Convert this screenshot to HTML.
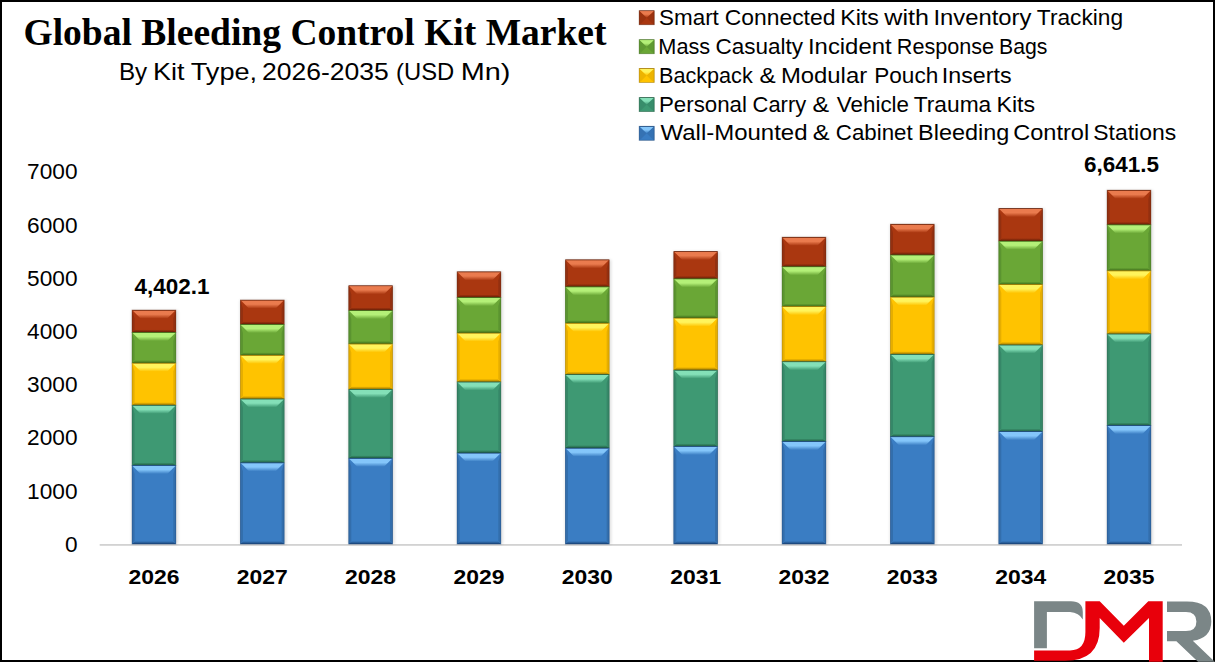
<!DOCTYPE html>
<html><head><meta charset="utf-8"><style>
html,body{margin:0;padding:0;background:#fff;overflow:hidden;}
svg{display:block;}
</style></head><body>
<svg width="1216" height="663" viewBox="0 0 1216 663">
<defs><filter id="sh" x="-20%" y="-5%" width="140%" height="110%"><feGaussianBlur stdDeviation="1.6"/></filter><linearGradient id="g_red_t" x1="0" y1="0" x2="0" y2="1"><stop offset="0" stop-color="#5e1c06"/><stop offset="0.1" stop-color="#ea7b4e"/><stop offset="0.5" stop-color="#ea7b4e"/><stop offset="1" stop-color="#aa3710"/></linearGradient><linearGradient id="g_red_b" x1="0" y1="0" x2="0" y2="1"><stop offset="0" stop-color="#aa3710"/><stop offset="1" stop-color="#5e1c06"/></linearGradient><linearGradient id="g_green_t" x1="0" y1="0" x2="0" y2="1"><stop offset="0" stop-color="#3a6818"/><stop offset="0.1" stop-color="#b4f078"/><stop offset="0.5" stop-color="#b4f078"/><stop offset="1" stop-color="#6aa736"/></linearGradient><linearGradient id="g_green_b" x1="0" y1="0" x2="0" y2="1"><stop offset="0" stop-color="#6aa736"/><stop offset="1" stop-color="#3a6818"/></linearGradient><linearGradient id="g_yellow_t" x1="0" y1="0" x2="0" y2="1"><stop offset="0" stop-color="#9c7400"/><stop offset="0.1" stop-color="#fff45c"/><stop offset="0.5" stop-color="#fff45c"/><stop offset="1" stop-color="#ffc300"/></linearGradient><linearGradient id="g_yellow_b" x1="0" y1="0" x2="0" y2="1"><stop offset="0" stop-color="#ffc300"/><stop offset="1" stop-color="#9c7400"/></linearGradient><linearGradient id="g_teal_t" x1="0" y1="0" x2="0" y2="1"><stop offset="0" stop-color="#1f5a40"/><stop offset="0.1" stop-color="#84e0b8"/><stop offset="0.5" stop-color="#84e0b8"/><stop offset="1" stop-color="#3e9973"/></linearGradient><linearGradient id="g_teal_b" x1="0" y1="0" x2="0" y2="1"><stop offset="0" stop-color="#3e9973"/><stop offset="1" stop-color="#1f5a40"/></linearGradient><linearGradient id="g_blue_t" x1="0" y1="0" x2="0" y2="1"><stop offset="0" stop-color="#1a4476"/><stop offset="0.1" stop-color="#84c6fa"/><stop offset="0.5" stop-color="#84c6fa"/><stop offset="1" stop-color="#3a7dc3"/></linearGradient><linearGradient id="g_blue_b" x1="0" y1="0" x2="0" y2="1"><stop offset="0" stop-color="#3a7dc3"/><stop offset="1" stop-color="#1a4476"/></linearGradient></defs>
<rect x="0" y="0" width="1216" height="663" fill="#fff"/>
<rect x="99.7" y="544" width="1082.3" height="1.8" fill="#d2d2d2"/><rect x="131.60" y="310.10" width="46.20" height="233.90" fill="#000" opacity="0.13" filter="url(#sh)"/><rect x="132.10" y="310.10" width="43.70" height="22.30" fill="#aa3710"/><polygon points="132.10,310.10 134.60,318.60 134.60,329.40 132.10,332.40" fill="#933010"/><polygon points="175.80,310.10 173.30,318.60 173.30,329.40 175.80,332.40" fill="#933010"/><polygon points="132.10,310.10 175.80,310.10 167.30,318.60 140.60,318.60" fill="url(#g_red_t)"/><polygon points="132.10,332.40 175.80,332.40 172.80,329.40 135.10,329.40" fill="url(#g_red_b)"/><rect x="132.10" y="310.10" width="43.70" height="22.30" fill="none" stroke="#5e1c06" stroke-opacity="0.55" stroke-width="0.8"/><rect x="132.10" y="332.40" width="43.70" height="30.70" fill="#6aa736"/><polygon points="132.10,332.40 134.60,340.90 134.60,360.10 132.10,363.10" fill="#5b9430"/><polygon points="175.80,332.40 173.30,340.90 173.30,360.10 175.80,363.10" fill="#5b9430"/><polygon points="132.10,332.40 175.80,332.40 167.30,340.90 140.60,340.90" fill="url(#g_green_t)"/><polygon points="132.10,363.10 175.80,363.10 172.80,360.10 135.10,360.10" fill="url(#g_green_b)"/><rect x="132.10" y="332.40" width="43.70" height="30.70" fill="none" stroke="#3a6818" stroke-opacity="0.55" stroke-width="0.8"/><rect x="132.10" y="363.10" width="43.70" height="42.10" fill="#ffc300"/><polygon points="132.10,363.10 134.60,371.60 134.60,402.20 132.10,405.20" fill="#e6ae00"/><polygon points="175.80,363.10 173.30,371.60 173.30,402.20 175.80,405.20" fill="#e6ae00"/><polygon points="132.10,363.10 175.80,363.10 167.30,371.60 140.60,371.60" fill="url(#g_yellow_t)"/><polygon points="132.10,405.20 175.80,405.20 172.80,402.20 135.10,402.20" fill="url(#g_yellow_b)"/><rect x="132.10" y="363.10" width="43.70" height="42.10" fill="none" stroke="#9c7400" stroke-opacity="0.55" stroke-width="0.8"/><rect x="132.10" y="405.20" width="43.70" height="60.20" fill="#3e9973"/><polygon points="132.10,405.20 134.60,413.70 134.60,462.40 132.10,465.40" fill="#368768"/><polygon points="175.80,405.20 173.30,413.70 173.30,462.40 175.80,465.40" fill="#368768"/><polygon points="132.10,405.20 175.80,405.20 167.30,413.70 140.60,413.70" fill="url(#g_teal_t)"/><polygon points="132.10,465.40 175.80,465.40 172.80,462.40 135.10,462.40" fill="url(#g_teal_b)"/><rect x="132.10" y="405.20" width="43.70" height="60.20" fill="none" stroke="#1f5a40" stroke-opacity="0.55" stroke-width="0.8"/><rect x="132.10" y="465.40" width="43.70" height="78.60" fill="#3a7dc3"/><polygon points="132.10,465.40 134.60,473.90 134.60,541.00 132.10,544.00" fill="#336eac"/><polygon points="175.80,465.40 173.30,473.90 173.30,541.00 175.80,544.00" fill="#336eac"/><polygon points="132.10,465.40 175.80,465.40 167.30,473.90 140.60,473.90" fill="url(#g_blue_t)"/><polygon points="132.10,544.00 175.80,544.00 172.80,541.00 135.10,541.00" fill="url(#g_blue_b)"/><rect x="132.10" y="465.40" width="43.70" height="78.60" fill="none" stroke="#1a4476" stroke-opacity="0.55" stroke-width="0.8"/><rect x="239.94" y="300.00" width="46.20" height="244.00" fill="#000" opacity="0.13" filter="url(#sh)"/><rect x="240.44" y="300.00" width="43.70" height="24.40" fill="#aa3710"/><polygon points="240.44,300.00 242.94,308.50 242.94,321.40 240.44,324.40" fill="#933010"/><polygon points="284.14,300.00 281.64,308.50 281.64,321.40 284.14,324.40" fill="#933010"/><polygon points="240.44,300.00 284.14,300.00 275.64,308.50 248.94,308.50" fill="url(#g_red_t)"/><polygon points="240.44,324.40 284.14,324.40 281.14,321.40 243.44,321.40" fill="url(#g_red_b)"/><rect x="240.44" y="300.00" width="43.70" height="24.40" fill="none" stroke="#5e1c06" stroke-opacity="0.55" stroke-width="0.8"/><rect x="240.44" y="324.40" width="43.70" height="30.90" fill="#6aa736"/><polygon points="240.44,324.40 242.94,332.90 242.94,352.30 240.44,355.30" fill="#5b9430"/><polygon points="284.14,324.40 281.64,332.90 281.64,352.30 284.14,355.30" fill="#5b9430"/><polygon points="240.44,324.40 284.14,324.40 275.64,332.90 248.94,332.90" fill="url(#g_green_t)"/><polygon points="240.44,355.30 284.14,355.30 281.14,352.30 243.44,352.30" fill="url(#g_green_b)"/><rect x="240.44" y="324.40" width="43.70" height="30.90" fill="none" stroke="#3a6818" stroke-opacity="0.55" stroke-width="0.8"/><rect x="240.44" y="355.30" width="43.70" height="43.60" fill="#ffc300"/><polygon points="240.44,355.30 242.94,363.80 242.94,395.90 240.44,398.90" fill="#e6ae00"/><polygon points="284.14,355.30 281.64,363.80 281.64,395.90 284.14,398.90" fill="#e6ae00"/><polygon points="240.44,355.30 284.14,355.30 275.64,363.80 248.94,363.80" fill="url(#g_yellow_t)"/><polygon points="240.44,398.90 284.14,398.90 281.14,395.90 243.44,395.90" fill="url(#g_yellow_b)"/><rect x="240.44" y="355.30" width="43.70" height="43.60" fill="none" stroke="#9c7400" stroke-opacity="0.55" stroke-width="0.8"/><rect x="240.44" y="398.90" width="43.70" height="63.90" fill="#3e9973"/><polygon points="240.44,398.90 242.94,407.40 242.94,459.80 240.44,462.80" fill="#368768"/><polygon points="284.14,398.90 281.64,407.40 281.64,459.80 284.14,462.80" fill="#368768"/><polygon points="240.44,398.90 284.14,398.90 275.64,407.40 248.94,407.40" fill="url(#g_teal_t)"/><polygon points="240.44,462.80 284.14,462.80 281.14,459.80 243.44,459.80" fill="url(#g_teal_b)"/><rect x="240.44" y="398.90" width="43.70" height="63.90" fill="none" stroke="#1f5a40" stroke-opacity="0.55" stroke-width="0.8"/><rect x="240.44" y="462.80" width="43.70" height="81.20" fill="#3a7dc3"/><polygon points="240.44,462.80 242.94,471.30 242.94,541.00 240.44,544.00" fill="#336eac"/><polygon points="284.14,462.80 281.64,471.30 281.64,541.00 284.14,544.00" fill="#336eac"/><polygon points="240.44,462.80 284.14,462.80 275.64,471.30 248.94,471.30" fill="url(#g_blue_t)"/><polygon points="240.44,544.00 284.14,544.00 281.14,541.00 243.44,541.00" fill="url(#g_blue_b)"/><rect x="240.44" y="462.80" width="43.70" height="81.20" fill="none" stroke="#1a4476" stroke-opacity="0.55" stroke-width="0.8"/><rect x="348.28" y="285.70" width="46.20" height="258.30" fill="#000" opacity="0.13" filter="url(#sh)"/><rect x="348.78" y="285.70" width="43.70" height="24.80" fill="#aa3710"/><polygon points="348.78,285.70 351.28,294.20 351.28,307.50 348.78,310.50" fill="#933010"/><polygon points="392.48,285.70 389.98,294.20 389.98,307.50 392.48,310.50" fill="#933010"/><polygon points="348.78,285.70 392.48,285.70 383.98,294.20 357.28,294.20" fill="url(#g_red_t)"/><polygon points="348.78,310.50 392.48,310.50 389.48,307.50 351.78,307.50" fill="url(#g_red_b)"/><rect x="348.78" y="285.70" width="43.70" height="24.80" fill="none" stroke="#5e1c06" stroke-opacity="0.55" stroke-width="0.8"/><rect x="348.78" y="310.50" width="43.70" height="33.40" fill="#6aa736"/><polygon points="348.78,310.50 351.28,319.00 351.28,340.90 348.78,343.90" fill="#5b9430"/><polygon points="392.48,310.50 389.98,319.00 389.98,340.90 392.48,343.90" fill="#5b9430"/><polygon points="348.78,310.50 392.48,310.50 383.98,319.00 357.28,319.00" fill="url(#g_green_t)"/><polygon points="348.78,343.90 392.48,343.90 389.48,340.90 351.78,340.90" fill="url(#g_green_b)"/><rect x="348.78" y="310.50" width="43.70" height="33.40" fill="none" stroke="#3a6818" stroke-opacity="0.55" stroke-width="0.8"/><rect x="348.78" y="343.90" width="43.70" height="45.40" fill="#ffc300"/><polygon points="348.78,343.90 351.28,352.40 351.28,386.30 348.78,389.30" fill="#e6ae00"/><polygon points="392.48,343.90 389.98,352.40 389.98,386.30 392.48,389.30" fill="#e6ae00"/><polygon points="348.78,343.90 392.48,343.90 383.98,352.40 357.28,352.40" fill="url(#g_yellow_t)"/><polygon points="348.78,389.30 392.48,389.30 389.48,386.30 351.78,386.30" fill="url(#g_yellow_b)"/><rect x="348.78" y="343.90" width="43.70" height="45.40" fill="none" stroke="#9c7400" stroke-opacity="0.55" stroke-width="0.8"/><rect x="348.78" y="389.30" width="43.70" height="69.00" fill="#3e9973"/><polygon points="348.78,389.30 351.28,397.80 351.28,455.30 348.78,458.30" fill="#368768"/><polygon points="392.48,389.30 389.98,397.80 389.98,455.30 392.48,458.30" fill="#368768"/><polygon points="348.78,389.30 392.48,389.30 383.98,397.80 357.28,397.80" fill="url(#g_teal_t)"/><polygon points="348.78,458.30 392.48,458.30 389.48,455.30 351.78,455.30" fill="url(#g_teal_b)"/><rect x="348.78" y="389.30" width="43.70" height="69.00" fill="none" stroke="#1f5a40" stroke-opacity="0.55" stroke-width="0.8"/><rect x="348.78" y="458.30" width="43.70" height="85.70" fill="#3a7dc3"/><polygon points="348.78,458.30 351.28,466.80 351.28,541.00 348.78,544.00" fill="#336eac"/><polygon points="392.48,458.30 389.98,466.80 389.98,541.00 392.48,544.00" fill="#336eac"/><polygon points="348.78,458.30 392.48,458.30 383.98,466.80 357.28,466.80" fill="url(#g_blue_t)"/><polygon points="348.78,544.00 392.48,544.00 389.48,541.00 351.78,541.00" fill="url(#g_blue_b)"/><rect x="348.78" y="458.30" width="43.70" height="85.70" fill="none" stroke="#1a4476" stroke-opacity="0.55" stroke-width="0.8"/><rect x="456.62" y="271.80" width="46.20" height="272.20" fill="#000" opacity="0.13" filter="url(#sh)"/><rect x="457.12" y="271.80" width="43.70" height="25.70" fill="#aa3710"/><polygon points="457.12,271.80 459.62,280.30 459.62,294.50 457.12,297.50" fill="#933010"/><polygon points="500.82,271.80 498.32,280.30 498.32,294.50 500.82,297.50" fill="#933010"/><polygon points="457.12,271.80 500.82,271.80 492.32,280.30 465.62,280.30" fill="url(#g_red_t)"/><polygon points="457.12,297.50 500.82,297.50 497.82,294.50 460.12,294.50" fill="url(#g_red_b)"/><rect x="457.12" y="271.80" width="43.70" height="25.70" fill="none" stroke="#5e1c06" stroke-opacity="0.55" stroke-width="0.8"/><rect x="457.12" y="297.50" width="43.70" height="35.50" fill="#6aa736"/><polygon points="457.12,297.50 459.62,306.00 459.62,330.00 457.12,333.00" fill="#5b9430"/><polygon points="500.82,297.50 498.32,306.00 498.32,330.00 500.82,333.00" fill="#5b9430"/><polygon points="457.12,297.50 500.82,297.50 492.32,306.00 465.62,306.00" fill="url(#g_green_t)"/><polygon points="457.12,333.00 500.82,333.00 497.82,330.00 460.12,330.00" fill="url(#g_green_b)"/><rect x="457.12" y="297.50" width="43.70" height="35.50" fill="none" stroke="#3a6818" stroke-opacity="0.55" stroke-width="0.8"/><rect x="457.12" y="333.00" width="43.70" height="48.90" fill="#ffc300"/><polygon points="457.12,333.00 459.62,341.50 459.62,378.90 457.12,381.90" fill="#e6ae00"/><polygon points="500.82,333.00 498.32,341.50 498.32,378.90 500.82,381.90" fill="#e6ae00"/><polygon points="457.12,333.00 500.82,333.00 492.32,341.50 465.62,341.50" fill="url(#g_yellow_t)"/><polygon points="457.12,381.90 500.82,381.90 497.82,378.90 460.12,378.90" fill="url(#g_yellow_b)"/><rect x="457.12" y="333.00" width="43.70" height="48.90" fill="none" stroke="#9c7400" stroke-opacity="0.55" stroke-width="0.8"/><rect x="457.12" y="381.90" width="43.70" height="71.10" fill="#3e9973"/><polygon points="457.12,381.90 459.62,390.40 459.62,450.00 457.12,453.00" fill="#368768"/><polygon points="500.82,381.90 498.32,390.40 498.32,450.00 500.82,453.00" fill="#368768"/><polygon points="457.12,381.90 500.82,381.90 492.32,390.40 465.62,390.40" fill="url(#g_teal_t)"/><polygon points="457.12,453.00 500.82,453.00 497.82,450.00 460.12,450.00" fill="url(#g_teal_b)"/><rect x="457.12" y="381.90" width="43.70" height="71.10" fill="none" stroke="#1f5a40" stroke-opacity="0.55" stroke-width="0.8"/><rect x="457.12" y="453.00" width="43.70" height="91.00" fill="#3a7dc3"/><polygon points="457.12,453.00 459.62,461.50 459.62,541.00 457.12,544.00" fill="#336eac"/><polygon points="500.82,453.00 498.32,461.50 498.32,541.00 500.82,544.00" fill="#336eac"/><polygon points="457.12,453.00 500.82,453.00 492.32,461.50 465.62,461.50" fill="url(#g_blue_t)"/><polygon points="457.12,544.00 500.82,544.00 497.82,541.00 460.12,541.00" fill="url(#g_blue_b)"/><rect x="457.12" y="453.00" width="43.70" height="91.00" fill="none" stroke="#1a4476" stroke-opacity="0.55" stroke-width="0.8"/><rect x="564.96" y="259.80" width="46.20" height="284.20" fill="#000" opacity="0.13" filter="url(#sh)"/><rect x="565.46" y="259.80" width="43.70" height="27.00" fill="#aa3710"/><polygon points="565.46,259.80 567.96,268.30 567.96,283.80 565.46,286.80" fill="#933010"/><polygon points="609.16,259.80 606.66,268.30 606.66,283.80 609.16,286.80" fill="#933010"/><polygon points="565.46,259.80 609.16,259.80 600.66,268.30 573.96,268.30" fill="url(#g_red_t)"/><polygon points="565.46,286.80 609.16,286.80 606.16,283.80 568.46,283.80" fill="url(#g_red_b)"/><rect x="565.46" y="259.80" width="43.70" height="27.00" fill="none" stroke="#5e1c06" stroke-opacity="0.55" stroke-width="0.8"/><rect x="565.46" y="286.80" width="43.70" height="36.40" fill="#6aa736"/><polygon points="565.46,286.80 567.96,295.30 567.96,320.20 565.46,323.20" fill="#5b9430"/><polygon points="609.16,286.80 606.66,295.30 606.66,320.20 609.16,323.20" fill="#5b9430"/><polygon points="565.46,286.80 609.16,286.80 600.66,295.30 573.96,295.30" fill="url(#g_green_t)"/><polygon points="565.46,323.20 609.16,323.20 606.16,320.20 568.46,320.20" fill="url(#g_green_b)"/><rect x="565.46" y="286.80" width="43.70" height="36.40" fill="none" stroke="#3a6818" stroke-opacity="0.55" stroke-width="0.8"/><rect x="565.46" y="323.20" width="43.70" height="51.40" fill="#ffc300"/><polygon points="565.46,323.20 567.96,331.70 567.96,371.60 565.46,374.60" fill="#e6ae00"/><polygon points="609.16,323.20 606.66,331.70 606.66,371.60 609.16,374.60" fill="#e6ae00"/><polygon points="565.46,323.20 609.16,323.20 600.66,331.70 573.96,331.70" fill="url(#g_yellow_t)"/><polygon points="565.46,374.60 609.16,374.60 606.16,371.60 568.46,371.60" fill="url(#g_yellow_b)"/><rect x="565.46" y="323.20" width="43.70" height="51.40" fill="none" stroke="#9c7400" stroke-opacity="0.55" stroke-width="0.8"/><rect x="565.46" y="374.60" width="43.70" height="73.50" fill="#3e9973"/><polygon points="565.46,374.60 567.96,383.10 567.96,445.10 565.46,448.10" fill="#368768"/><polygon points="609.16,374.60 606.66,383.10 606.66,445.10 609.16,448.10" fill="#368768"/><polygon points="565.46,374.60 609.16,374.60 600.66,383.10 573.96,383.10" fill="url(#g_teal_t)"/><polygon points="565.46,448.10 609.16,448.10 606.16,445.10 568.46,445.10" fill="url(#g_teal_b)"/><rect x="565.46" y="374.60" width="43.70" height="73.50" fill="none" stroke="#1f5a40" stroke-opacity="0.55" stroke-width="0.8"/><rect x="565.46" y="448.10" width="43.70" height="95.90" fill="#3a7dc3"/><polygon points="565.46,448.10 567.96,456.60 567.96,541.00 565.46,544.00" fill="#336eac"/><polygon points="609.16,448.10 606.66,456.60 606.66,541.00 609.16,544.00" fill="#336eac"/><polygon points="565.46,448.10 609.16,448.10 600.66,456.60 573.96,456.60" fill="url(#g_blue_t)"/><polygon points="565.46,544.00 609.16,544.00 606.16,541.00 568.46,541.00" fill="url(#g_blue_b)"/><rect x="565.46" y="448.10" width="43.70" height="95.90" fill="none" stroke="#1a4476" stroke-opacity="0.55" stroke-width="0.8"/><rect x="673.30" y="251.40" width="46.20" height="292.60" fill="#000" opacity="0.13" filter="url(#sh)"/><rect x="673.80" y="251.40" width="43.70" height="27.40" fill="#aa3710"/><polygon points="673.80,251.40 676.30,259.90 676.30,275.80 673.80,278.80" fill="#933010"/><polygon points="717.50,251.40 715.00,259.90 715.00,275.80 717.50,278.80" fill="#933010"/><polygon points="673.80,251.40 717.50,251.40 709.00,259.90 682.30,259.90" fill="url(#g_red_t)"/><polygon points="673.80,278.80 717.50,278.80 714.50,275.80 676.80,275.80" fill="url(#g_red_b)"/><rect x="673.80" y="251.40" width="43.70" height="27.40" fill="none" stroke="#5e1c06" stroke-opacity="0.55" stroke-width="0.8"/><rect x="673.80" y="278.80" width="43.70" height="39.20" fill="#6aa736"/><polygon points="673.80,278.80 676.30,287.30 676.30,315.00 673.80,318.00" fill="#5b9430"/><polygon points="717.50,278.80 715.00,287.30 715.00,315.00 717.50,318.00" fill="#5b9430"/><polygon points="673.80,278.80 717.50,278.80 709.00,287.30 682.30,287.30" fill="url(#g_green_t)"/><polygon points="673.80,318.00 717.50,318.00 714.50,315.00 676.80,315.00" fill="url(#g_green_b)"/><rect x="673.80" y="278.80" width="43.70" height="39.20" fill="none" stroke="#3a6818" stroke-opacity="0.55" stroke-width="0.8"/><rect x="673.80" y="318.00" width="43.70" height="52.10" fill="#ffc300"/><polygon points="673.80,318.00 676.30,326.50 676.30,367.10 673.80,370.10" fill="#e6ae00"/><polygon points="717.50,318.00 715.00,326.50 715.00,367.10 717.50,370.10" fill="#e6ae00"/><polygon points="673.80,318.00 717.50,318.00 709.00,326.50 682.30,326.50" fill="url(#g_yellow_t)"/><polygon points="673.80,370.10 717.50,370.10 714.50,367.10 676.80,367.10" fill="url(#g_yellow_b)"/><rect x="673.80" y="318.00" width="43.70" height="52.10" fill="none" stroke="#9c7400" stroke-opacity="0.55" stroke-width="0.8"/><rect x="673.80" y="370.10" width="43.70" height="76.30" fill="#3e9973"/><polygon points="673.80,370.10 676.30,378.60 676.30,443.40 673.80,446.40" fill="#368768"/><polygon points="717.50,370.10 715.00,378.60 715.00,443.40 717.50,446.40" fill="#368768"/><polygon points="673.80,370.10 717.50,370.10 709.00,378.60 682.30,378.60" fill="url(#g_teal_t)"/><polygon points="673.80,446.40 717.50,446.40 714.50,443.40 676.80,443.40" fill="url(#g_teal_b)"/><rect x="673.80" y="370.10" width="43.70" height="76.30" fill="none" stroke="#1f5a40" stroke-opacity="0.55" stroke-width="0.8"/><rect x="673.80" y="446.40" width="43.70" height="97.60" fill="#3a7dc3"/><polygon points="673.80,446.40 676.30,454.90 676.30,541.00 673.80,544.00" fill="#336eac"/><polygon points="717.50,446.40 715.00,454.90 715.00,541.00 717.50,544.00" fill="#336eac"/><polygon points="673.80,446.40 717.50,446.40 709.00,454.90 682.30,454.90" fill="url(#g_blue_t)"/><polygon points="673.80,544.00 717.50,544.00 714.50,541.00 676.80,541.00" fill="url(#g_blue_b)"/><rect x="673.80" y="446.40" width="43.70" height="97.60" fill="none" stroke="#1a4476" stroke-opacity="0.55" stroke-width="0.8"/><rect x="781.64" y="237.20" width="46.20" height="306.80" fill="#000" opacity="0.13" filter="url(#sh)"/><rect x="782.14" y="237.20" width="43.70" height="29.50" fill="#aa3710"/><polygon points="782.14,237.20 784.64,245.70 784.64,263.70 782.14,266.70" fill="#933010"/><polygon points="825.84,237.20 823.34,245.70 823.34,263.70 825.84,266.70" fill="#933010"/><polygon points="782.14,237.20 825.84,237.20 817.34,245.70 790.64,245.70" fill="url(#g_red_t)"/><polygon points="782.14,266.70 825.84,266.70 822.84,263.70 785.14,263.70" fill="url(#g_red_b)"/><rect x="782.14" y="237.20" width="43.70" height="29.50" fill="none" stroke="#5e1c06" stroke-opacity="0.55" stroke-width="0.8"/><rect x="782.14" y="266.70" width="43.70" height="39.90" fill="#6aa736"/><polygon points="782.14,266.70 784.64,275.20 784.64,303.60 782.14,306.60" fill="#5b9430"/><polygon points="825.84,266.70 823.34,275.20 823.34,303.60 825.84,306.60" fill="#5b9430"/><polygon points="782.14,266.70 825.84,266.70 817.34,275.20 790.64,275.20" fill="url(#g_green_t)"/><polygon points="782.14,306.60 825.84,306.60 822.84,303.60 785.14,303.60" fill="url(#g_green_b)"/><rect x="782.14" y="266.70" width="43.70" height="39.90" fill="none" stroke="#3a6818" stroke-opacity="0.55" stroke-width="0.8"/><rect x="782.14" y="306.60" width="43.70" height="55.10" fill="#ffc300"/><polygon points="782.14,306.60 784.64,315.10 784.64,358.70 782.14,361.70" fill="#e6ae00"/><polygon points="825.84,306.60 823.34,315.10 823.34,358.70 825.84,361.70" fill="#e6ae00"/><polygon points="782.14,306.60 825.84,306.60 817.34,315.10 790.64,315.10" fill="url(#g_yellow_t)"/><polygon points="782.14,361.70 825.84,361.70 822.84,358.70 785.14,358.70" fill="url(#g_yellow_b)"/><rect x="782.14" y="306.60" width="43.70" height="55.10" fill="none" stroke="#9c7400" stroke-opacity="0.55" stroke-width="0.8"/><rect x="782.14" y="361.70" width="43.70" height="79.80" fill="#3e9973"/><polygon points="782.14,361.70 784.64,370.20 784.64,438.50 782.14,441.50" fill="#368768"/><polygon points="825.84,361.70 823.34,370.20 823.34,438.50 825.84,441.50" fill="#368768"/><polygon points="782.14,361.70 825.84,361.70 817.34,370.20 790.64,370.20" fill="url(#g_teal_t)"/><polygon points="782.14,441.50 825.84,441.50 822.84,438.50 785.14,438.50" fill="url(#g_teal_b)"/><rect x="782.14" y="361.70" width="43.70" height="79.80" fill="none" stroke="#1f5a40" stroke-opacity="0.55" stroke-width="0.8"/><rect x="782.14" y="441.50" width="43.70" height="102.50" fill="#3a7dc3"/><polygon points="782.14,441.50 784.64,450.00 784.64,541.00 782.14,544.00" fill="#336eac"/><polygon points="825.84,441.50 823.34,450.00 823.34,541.00 825.84,544.00" fill="#336eac"/><polygon points="782.14,441.50 825.84,441.50 817.34,450.00 790.64,450.00" fill="url(#g_blue_t)"/><polygon points="782.14,544.00 825.84,544.00 822.84,541.00 785.14,541.00" fill="url(#g_blue_b)"/><rect x="782.14" y="441.50" width="43.70" height="102.50" fill="none" stroke="#1a4476" stroke-opacity="0.55" stroke-width="0.8"/><rect x="889.98" y="224.20" width="46.20" height="319.80" fill="#000" opacity="0.13" filter="url(#sh)"/><rect x="890.48" y="224.20" width="43.70" height="30.70" fill="#aa3710"/><polygon points="890.48,224.20 892.98,232.70 892.98,251.90 890.48,254.90" fill="#933010"/><polygon points="934.18,224.20 931.68,232.70 931.68,251.90 934.18,254.90" fill="#933010"/><polygon points="890.48,224.20 934.18,224.20 925.68,232.70 898.98,232.70" fill="url(#g_red_t)"/><polygon points="890.48,254.90 934.18,254.90 931.18,251.90 893.48,251.90" fill="url(#g_red_b)"/><rect x="890.48" y="224.20" width="43.70" height="30.70" fill="none" stroke="#5e1c06" stroke-opacity="0.55" stroke-width="0.8"/><rect x="890.48" y="254.90" width="43.70" height="42.10" fill="#6aa736"/><polygon points="890.48,254.90 892.98,263.40 892.98,294.00 890.48,297.00" fill="#5b9430"/><polygon points="934.18,254.90 931.68,263.40 931.68,294.00 934.18,297.00" fill="#5b9430"/><polygon points="890.48,254.90 934.18,254.90 925.68,263.40 898.98,263.40" fill="url(#g_green_t)"/><polygon points="890.48,297.00 934.18,297.00 931.18,294.00 893.48,294.00" fill="url(#g_green_b)"/><rect x="890.48" y="254.90" width="43.70" height="42.10" fill="none" stroke="#3a6818" stroke-opacity="0.55" stroke-width="0.8"/><rect x="890.48" y="297.00" width="43.70" height="57.30" fill="#ffc300"/><polygon points="890.48,297.00 892.98,305.50 892.98,351.30 890.48,354.30" fill="#e6ae00"/><polygon points="934.18,297.00 931.68,305.50 931.68,351.30 934.18,354.30" fill="#e6ae00"/><polygon points="890.48,297.00 934.18,297.00 925.68,305.50 898.98,305.50" fill="url(#g_yellow_t)"/><polygon points="890.48,354.30 934.18,354.30 931.18,351.30 893.48,351.30" fill="url(#g_yellow_b)"/><rect x="890.48" y="297.00" width="43.70" height="57.30" fill="none" stroke="#9c7400" stroke-opacity="0.55" stroke-width="0.8"/><rect x="890.48" y="354.30" width="43.70" height="82.40" fill="#3e9973"/><polygon points="890.48,354.30 892.98,362.80 892.98,433.70 890.48,436.70" fill="#368768"/><polygon points="934.18,354.30 931.68,362.80 931.68,433.70 934.18,436.70" fill="#368768"/><polygon points="890.48,354.30 934.18,354.30 925.68,362.80 898.98,362.80" fill="url(#g_teal_t)"/><polygon points="890.48,436.70 934.18,436.70 931.18,433.70 893.48,433.70" fill="url(#g_teal_b)"/><rect x="890.48" y="354.30" width="43.70" height="82.40" fill="none" stroke="#1f5a40" stroke-opacity="0.55" stroke-width="0.8"/><rect x="890.48" y="436.70" width="43.70" height="107.30" fill="#3a7dc3"/><polygon points="890.48,436.70 892.98,445.20 892.98,541.00 890.48,544.00" fill="#336eac"/><polygon points="934.18,436.70 931.68,445.20 931.68,541.00 934.18,544.00" fill="#336eac"/><polygon points="890.48,436.70 934.18,436.70 925.68,445.20 898.98,445.20" fill="url(#g_blue_t)"/><polygon points="890.48,544.00 934.18,544.00 931.18,541.00 893.48,541.00" fill="url(#g_blue_b)"/><rect x="890.48" y="436.70" width="43.70" height="107.30" fill="none" stroke="#1a4476" stroke-opacity="0.55" stroke-width="0.8"/><rect x="998.32" y="208.50" width="46.20" height="335.50" fill="#000" opacity="0.13" filter="url(#sh)"/><rect x="998.82" y="208.50" width="43.70" height="32.60" fill="#aa3710"/><polygon points="998.82,208.50 1001.32,217.00 1001.32,238.10 998.82,241.10" fill="#933010"/><polygon points="1042.52,208.50 1040.02,217.00 1040.02,238.10 1042.52,241.10" fill="#933010"/><polygon points="998.82,208.50 1042.52,208.50 1034.02,217.00 1007.32,217.00" fill="url(#g_red_t)"/><polygon points="998.82,241.10 1042.52,241.10 1039.52,238.10 1001.82,238.10" fill="url(#g_red_b)"/><rect x="998.82" y="208.50" width="43.70" height="32.60" fill="none" stroke="#5e1c06" stroke-opacity="0.55" stroke-width="0.8"/><rect x="998.82" y="241.10" width="43.70" height="43.50" fill="#6aa736"/><polygon points="998.82,241.10 1001.32,249.60 1001.32,281.60 998.82,284.60" fill="#5b9430"/><polygon points="1042.52,241.10 1040.02,249.60 1040.02,281.60 1042.52,284.60" fill="#5b9430"/><polygon points="998.82,241.10 1042.52,241.10 1034.02,249.60 1007.32,249.60" fill="url(#g_green_t)"/><polygon points="998.82,284.60 1042.52,284.60 1039.52,281.60 1001.82,281.60" fill="url(#g_green_b)"/><rect x="998.82" y="241.10" width="43.70" height="43.50" fill="none" stroke="#3a6818" stroke-opacity="0.55" stroke-width="0.8"/><rect x="998.82" y="284.60" width="43.70" height="60.30" fill="#ffc300"/><polygon points="998.82,284.60 1001.32,293.10 1001.32,341.90 998.82,344.90" fill="#e6ae00"/><polygon points="1042.52,284.60 1040.02,293.10 1040.02,341.90 1042.52,344.90" fill="#e6ae00"/><polygon points="998.82,284.60 1042.52,284.60 1034.02,293.10 1007.32,293.10" fill="url(#g_yellow_t)"/><polygon points="998.82,344.90 1042.52,344.90 1039.52,341.90 1001.82,341.90" fill="url(#g_yellow_b)"/><rect x="998.82" y="284.60" width="43.70" height="60.30" fill="none" stroke="#9c7400" stroke-opacity="0.55" stroke-width="0.8"/><rect x="998.82" y="344.90" width="43.70" height="86.70" fill="#3e9973"/><polygon points="998.82,344.90 1001.32,353.40 1001.32,428.60 998.82,431.60" fill="#368768"/><polygon points="1042.52,344.90 1040.02,353.40 1040.02,428.60 1042.52,431.60" fill="#368768"/><polygon points="998.82,344.90 1042.52,344.90 1034.02,353.40 1007.32,353.40" fill="url(#g_teal_t)"/><polygon points="998.82,431.60 1042.52,431.60 1039.52,428.60 1001.82,428.60" fill="url(#g_teal_b)"/><rect x="998.82" y="344.90" width="43.70" height="86.70" fill="none" stroke="#1f5a40" stroke-opacity="0.55" stroke-width="0.8"/><rect x="998.82" y="431.60" width="43.70" height="112.40" fill="#3a7dc3"/><polygon points="998.82,431.60 1001.32,440.10 1001.32,541.00 998.82,544.00" fill="#336eac"/><polygon points="1042.52,431.60 1040.02,440.10 1040.02,541.00 1042.52,544.00" fill="#336eac"/><polygon points="998.82,431.60 1042.52,431.60 1034.02,440.10 1007.32,440.10" fill="url(#g_blue_t)"/><polygon points="998.82,544.00 1042.52,544.00 1039.52,541.00 1001.82,541.00" fill="url(#g_blue_b)"/><rect x="998.82" y="431.60" width="43.70" height="112.40" fill="none" stroke="#1a4476" stroke-opacity="0.55" stroke-width="0.8"/><rect x="1106.66" y="190.20" width="46.20" height="353.80" fill="#000" opacity="0.13" filter="url(#sh)"/><rect x="1107.16" y="190.20" width="43.70" height="34.60" fill="#aa3710"/><polygon points="1107.16,190.20 1109.66,198.70 1109.66,221.80 1107.16,224.80" fill="#933010"/><polygon points="1150.86,190.20 1148.36,198.70 1148.36,221.80 1150.86,224.80" fill="#933010"/><polygon points="1107.16,190.20 1150.86,190.20 1142.36,198.70 1115.66,198.70" fill="url(#g_red_t)"/><polygon points="1107.16,224.80 1150.86,224.80 1147.86,221.80 1110.16,221.80" fill="url(#g_red_b)"/><rect x="1107.16" y="190.20" width="43.70" height="34.60" fill="none" stroke="#5e1c06" stroke-opacity="0.55" stroke-width="0.8"/><rect x="1107.16" y="224.80" width="43.70" height="46.00" fill="#6aa736"/><polygon points="1107.16,224.80 1109.66,233.30 1109.66,267.80 1107.16,270.80" fill="#5b9430"/><polygon points="1150.86,224.80 1148.36,233.30 1148.36,267.80 1150.86,270.80" fill="#5b9430"/><polygon points="1107.16,224.80 1150.86,224.80 1142.36,233.30 1115.66,233.30" fill="url(#g_green_t)"/><polygon points="1107.16,270.80 1150.86,270.80 1147.86,267.80 1110.16,267.80" fill="url(#g_green_b)"/><rect x="1107.16" y="224.80" width="43.70" height="46.00" fill="none" stroke="#3a6818" stroke-opacity="0.55" stroke-width="0.8"/><rect x="1107.16" y="270.80" width="43.70" height="63.10" fill="#ffc300"/><polygon points="1107.16,270.80 1109.66,279.30 1109.66,330.90 1107.16,333.90" fill="#e6ae00"/><polygon points="1150.86,270.80 1148.36,279.30 1148.36,330.90 1150.86,333.90" fill="#e6ae00"/><polygon points="1107.16,270.80 1150.86,270.80 1142.36,279.30 1115.66,279.30" fill="url(#g_yellow_t)"/><polygon points="1107.16,333.90 1150.86,333.90 1147.86,330.90 1110.16,330.90" fill="url(#g_yellow_b)"/><rect x="1107.16" y="270.80" width="43.70" height="63.10" fill="none" stroke="#9c7400" stroke-opacity="0.55" stroke-width="0.8"/><rect x="1107.16" y="333.90" width="43.70" height="91.60" fill="#3e9973"/><polygon points="1107.16,333.90 1109.66,342.40 1109.66,422.50 1107.16,425.50" fill="#368768"/><polygon points="1150.86,333.90 1148.36,342.40 1148.36,422.50 1150.86,425.50" fill="#368768"/><polygon points="1107.16,333.90 1150.86,333.90 1142.36,342.40 1115.66,342.40" fill="url(#g_teal_t)"/><polygon points="1107.16,425.50 1150.86,425.50 1147.86,422.50 1110.16,422.50" fill="url(#g_teal_b)"/><rect x="1107.16" y="333.90" width="43.70" height="91.60" fill="none" stroke="#1f5a40" stroke-opacity="0.55" stroke-width="0.8"/><rect x="1107.16" y="425.50" width="43.70" height="118.50" fill="#3a7dc3"/><polygon points="1107.16,425.50 1109.66,434.00 1109.66,541.00 1107.16,544.00" fill="#336eac"/><polygon points="1150.86,425.50 1148.36,434.00 1148.36,541.00 1150.86,544.00" fill="#336eac"/><polygon points="1107.16,425.50 1150.86,425.50 1142.36,434.00 1115.66,434.00" fill="url(#g_blue_t)"/><polygon points="1107.16,544.00 1150.86,544.00 1147.86,541.00 1110.16,541.00" fill="url(#g_blue_b)"/><rect x="1107.16" y="425.50" width="43.70" height="118.50" fill="none" stroke="#1a4476" stroke-opacity="0.55" stroke-width="0.8"/>
<rect x="639.20" y="10.70" width="15.00" height="14.00" fill="#aa3710"/><polygon points="639.20,10.70 646.70,17.70 641.70,22.70 639.20,24.70" fill="#933010" opacity="0.7"/><polygon points="654.20,10.70 646.70,17.70 651.70,22.70 654.20,24.70" fill="#933010" opacity="0.7"/><polygon points="639.20,10.70 654.20,10.70 646.70,17.70" fill="url(#g_red_t)"/><rect x="639.20" y="10.70" width="15.00" height="14.00" fill="none" stroke="#5e1c06" stroke-opacity="0.6" stroke-width="0.8"/><rect x="639.20" y="39.70" width="15.00" height="14.00" fill="#6aa736"/><polygon points="639.20,39.70 646.70,46.70 641.70,51.70 639.20,53.70" fill="#5b9430" opacity="0.7"/><polygon points="654.20,39.70 646.70,46.70 651.70,51.70 654.20,53.70" fill="#5b9430" opacity="0.7"/><polygon points="639.20,39.70 654.20,39.70 646.70,46.70" fill="url(#g_green_t)"/><rect x="639.20" y="39.70" width="15.00" height="14.00" fill="none" stroke="#3a6818" stroke-opacity="0.6" stroke-width="0.8"/><rect x="639.20" y="68.50" width="15.00" height="14.00" fill="#ffc300"/><polygon points="639.20,68.50 646.70,75.50 641.70,80.50 639.20,82.50" fill="#e6ae00" opacity="0.7"/><polygon points="654.20,68.50 646.70,75.50 651.70,80.50 654.20,82.50" fill="#e6ae00" opacity="0.7"/><polygon points="639.20,68.50 654.20,68.50 646.70,75.50" fill="url(#g_yellow_t)"/><rect x="639.20" y="68.50" width="15.00" height="14.00" fill="none" stroke="#9c7400" stroke-opacity="0.6" stroke-width="0.8"/><rect x="639.20" y="97.60" width="15.00" height="14.00" fill="#3e9973"/><polygon points="639.20,97.60 646.70,104.60 641.70,109.60 639.20,111.60" fill="#368768" opacity="0.7"/><polygon points="654.20,97.60 646.70,104.60 651.70,109.60 654.20,111.60" fill="#368768" opacity="0.7"/><polygon points="639.20,97.60 654.20,97.60 646.70,104.60" fill="url(#g_teal_t)"/><rect x="639.20" y="97.60" width="15.00" height="14.00" fill="none" stroke="#1f5a40" stroke-opacity="0.6" stroke-width="0.8"/><rect x="639.20" y="126.30" width="15.00" height="14.00" fill="#3a7dc3"/><polygon points="639.20,126.30 646.70,133.30 641.70,138.30 639.20,140.30" fill="#336eac" opacity="0.7"/><polygon points="654.20,126.30 646.70,133.30 651.70,138.30 654.20,140.30" fill="#336eac" opacity="0.7"/><polygon points="639.20,126.30 654.20,126.30 646.70,133.30" fill="url(#g_blue_t)"/><rect x="639.20" y="126.30" width="15.00" height="14.00" fill="none" stroke="#1a4476" stroke-opacity="0.6" stroke-width="0.8"/>
<text x="23.5" y="44.7" font-family='"Liberation Serif", serif' font-size="38" font-weight="bold" text-anchor="start" fill="#000" textLength="583" lengthAdjust="spacingAndGlyphs">Global Bleeding Control Kit Market</text><text x="118.9" y="80.3" font-family='"Liberation Sans", sans-serif' font-size="24.5" font-weight="normal" text-anchor="start" fill="#000" textLength="28.24" lengthAdjust="spacingAndGlyphs">By</text><text x="152.98" y="80.3" font-family='"Liberation Sans", sans-serif' font-size="24.5" font-weight="normal" text-anchor="start" fill="#000" textLength="31.41" lengthAdjust="spacingAndGlyphs">Kit</text><text x="190.79" y="80.3" font-family='"Liberation Sans", sans-serif' font-size="24.5" font-weight="normal" text-anchor="start" fill="#000" textLength="66.38" lengthAdjust="spacingAndGlyphs">Type,</text><text x="261.97" y="80.3" font-family='"Liberation Sans", sans-serif' font-size="24.5" font-weight="normal" text-anchor="start" fill="#000" textLength="126.85" lengthAdjust="spacingAndGlyphs">2026-2035</text><text x="396.11" y="80.3" font-family='"Liberation Sans", sans-serif' font-size="24.5" font-weight="normal" text-anchor="start" fill="#000" textLength="58.2" lengthAdjust="spacingAndGlyphs">(USD</text><text x="460.72" y="80.3" font-family='"Liberation Sans", sans-serif' font-size="24.5" font-weight="normal" text-anchor="start" fill="#000" textLength="49.7" lengthAdjust="spacingAndGlyphs">Mn)</text><text x="659.09" y="24.7" font-family='"Liberation Sans", sans-serif' font-size="21.5" font-weight="normal" text-anchor="start" fill="#000" textLength="59.77" lengthAdjust="spacingAndGlyphs">Smart</text><text x="724.76" y="24.7" font-family='"Liberation Sans", sans-serif' font-size="21.5" font-weight="normal" text-anchor="start" fill="#000" textLength="110.62" lengthAdjust="spacingAndGlyphs">Connected</text><text x="840.18" y="24.7" font-family='"Liberation Sans", sans-serif' font-size="21.5" font-weight="normal" text-anchor="start" fill="#000" textLength="38.72" lengthAdjust="spacingAndGlyphs">Kits</text><text x="884.36" y="24.7" font-family='"Liberation Sans", sans-serif' font-size="21.5" font-weight="normal" text-anchor="start" fill="#000" textLength="44.63" lengthAdjust="spacingAndGlyphs">with</text><text x="933.4" y="24.7" font-family='"Liberation Sans", sans-serif' font-size="21.5" font-weight="normal" text-anchor="start" fill="#000" textLength="97.98" lengthAdjust="spacingAndGlyphs">Inventory</text><text x="1036.89" y="24.7" font-family='"Liberation Sans", sans-serif' font-size="21.5" font-weight="normal" text-anchor="start" fill="#000" textLength="86.23" lengthAdjust="spacingAndGlyphs">Tracking</text><text x="658.31" y="53.7" font-family='"Liberation Sans", sans-serif' font-size="21.5" font-weight="normal" text-anchor="start" fill="#000" textLength="51.94" lengthAdjust="spacingAndGlyphs">Mass</text><text x="715.58" y="53.7" font-family='"Liberation Sans", sans-serif' font-size="21.5" font-weight="normal" text-anchor="start" fill="#000" textLength="87.5" lengthAdjust="spacingAndGlyphs">Casualty</text><text x="807.99" y="53.7" font-family='"Liberation Sans", sans-serif' font-size="21.5" font-weight="normal" text-anchor="start" fill="#000" textLength="83.59" lengthAdjust="spacingAndGlyphs">Incident</text><text x="896.82" y="53.7" font-family='"Liberation Sans", sans-serif' font-size="21.5" font-weight="normal" text-anchor="start" fill="#000" textLength="97.31" lengthAdjust="spacingAndGlyphs">Response</text><text x="999.05" y="53.7" font-family='"Liberation Sans", sans-serif' font-size="21.5" font-weight="normal" text-anchor="start" fill="#000" textLength="48.38" lengthAdjust="spacingAndGlyphs">Bags</text><text x="659.02" y="82.5" font-family='"Liberation Sans", sans-serif' font-size="21.5" font-weight="normal" text-anchor="start" fill="#000" textLength="93.69" lengthAdjust="spacingAndGlyphs">Backpack</text><text x="759.45" y="82.5" font-family='"Liberation Sans", sans-serif' font-size="21.5" font-weight="normal" text-anchor="start" fill="#000" textLength="16.2" lengthAdjust="spacingAndGlyphs">&amp;</text><text x="780.93" y="82.5" font-family='"Liberation Sans", sans-serif' font-size="21.5" font-weight="normal" text-anchor="start" fill="#000" textLength="86.24" lengthAdjust="spacingAndGlyphs">Modular</text><text x="874.24" y="82.5" font-family='"Liberation Sans", sans-serif' font-size="21.5" font-weight="normal" text-anchor="start" fill="#000" textLength="63.98" lengthAdjust="spacingAndGlyphs">Pouch</text><text x="941.85" y="82.5" font-family='"Liberation Sans", sans-serif' font-size="21.5" font-weight="normal" text-anchor="start" fill="#000" textLength="69.79" lengthAdjust="spacingAndGlyphs">Inserts</text><text x="658.96" y="111.6" font-family='"Liberation Sans", sans-serif' font-size="21.5" font-weight="normal" text-anchor="start" fill="#000" textLength="88.03" lengthAdjust="spacingAndGlyphs">Personal</text><text x="752.6" y="111.6" font-family='"Liberation Sans", sans-serif' font-size="21.5" font-weight="normal" text-anchor="start" fill="#000" textLength="53.54" lengthAdjust="spacingAndGlyphs">Carry</text><text x="812.43" y="111.6" font-family='"Liberation Sans", sans-serif' font-size="21.5" font-weight="normal" text-anchor="start" fill="#000" textLength="16.63" lengthAdjust="spacingAndGlyphs">&amp;</text><text x="836.89" y="111.6" font-family='"Liberation Sans", sans-serif' font-size="21.5" font-weight="normal" text-anchor="start" fill="#000" textLength="72.11" lengthAdjust="spacingAndGlyphs">Vehicle</text><text x="913.69" y="111.6" font-family='"Liberation Sans", sans-serif' font-size="21.5" font-weight="normal" text-anchor="start" fill="#000" textLength="77.57" lengthAdjust="spacingAndGlyphs">Trauma</text><text x="996.48" y="111.6" font-family='"Liberation Sans", sans-serif' font-size="21.5" font-weight="normal" text-anchor="start" fill="#000" textLength="38.72" lengthAdjust="spacingAndGlyphs">Kits</text><text x="660.48" y="140.3" font-family='"Liberation Sans", sans-serif' font-size="21.5" font-weight="normal" text-anchor="start" fill="#000" textLength="147.07" lengthAdjust="spacingAndGlyphs">Wall-Mounted</text><text x="812.82" y="140.3" font-family='"Liberation Sans", sans-serif' font-size="21.5" font-weight="normal" text-anchor="start" fill="#000" textLength="16.85" lengthAdjust="spacingAndGlyphs">&amp;</text><text x="835.89" y="140.3" font-family='"Liberation Sans", sans-serif' font-size="21.5" font-weight="normal" text-anchor="start" fill="#000" textLength="76.77" lengthAdjust="spacingAndGlyphs">Cabinet</text><text x="918.07" y="140.3" font-family='"Liberation Sans", sans-serif' font-size="21.5" font-weight="normal" text-anchor="start" fill="#000" textLength="91.15" lengthAdjust="spacingAndGlyphs">Bleeding</text><text x="1013.22" y="140.3" font-family='"Liberation Sans", sans-serif' font-size="21.5" font-weight="normal" text-anchor="start" fill="#000" textLength="75.94" lengthAdjust="spacingAndGlyphs">Control</text><text x="1093.27" y="140.3" font-family='"Liberation Sans", sans-serif' font-size="21.5" font-weight="normal" text-anchor="start" fill="#000" textLength="82.85" lengthAdjust="spacingAndGlyphs">Stations</text><text x="77.5" y="551.8" font-family='"Liberation Sans", sans-serif' font-size="21.5" font-weight="normal" text-anchor="end" fill="#000" textLength="12.6" lengthAdjust="spacingAndGlyphs">0</text><text x="77.5" y="498.59" font-family='"Liberation Sans", sans-serif' font-size="21.5" font-weight="normal" text-anchor="end" fill="#000" textLength="50.4" lengthAdjust="spacingAndGlyphs">1000</text><text x="77.5" y="445.38" font-family='"Liberation Sans", sans-serif' font-size="21.5" font-weight="normal" text-anchor="end" fill="#000" textLength="50.4" lengthAdjust="spacingAndGlyphs">2000</text><text x="77.5" y="392.17" font-family='"Liberation Sans", sans-serif' font-size="21.5" font-weight="normal" text-anchor="end" fill="#000" textLength="50.4" lengthAdjust="spacingAndGlyphs">3000</text><text x="77.5" y="338.96" font-family='"Liberation Sans", sans-serif' font-size="21.5" font-weight="normal" text-anchor="end" fill="#000" textLength="50.4" lengthAdjust="spacingAndGlyphs">4000</text><text x="77.5" y="285.75" font-family='"Liberation Sans", sans-serif' font-size="21.5" font-weight="normal" text-anchor="end" fill="#000" textLength="50.4" lengthAdjust="spacingAndGlyphs">5000</text><text x="77.5" y="232.54" font-family='"Liberation Sans", sans-serif' font-size="21.5" font-weight="normal" text-anchor="end" fill="#000" textLength="50.4" lengthAdjust="spacingAndGlyphs">6000</text><text x="77.5" y="179.33" font-family='"Liberation Sans", sans-serif' font-size="21.5" font-weight="normal" text-anchor="end" fill="#000" textLength="50.4" lengthAdjust="spacingAndGlyphs">7000</text><text x="153.95" y="584.2" font-family='"Liberation Sans", sans-serif' font-size="20.5" font-weight="bold" text-anchor="middle" fill="#000" textLength="51" lengthAdjust="spacingAndGlyphs">2026</text><text x="262.29" y="584.2" font-family='"Liberation Sans", sans-serif' font-size="20.5" font-weight="bold" text-anchor="middle" fill="#000" textLength="51" lengthAdjust="spacingAndGlyphs">2027</text><text x="370.63" y="584.2" font-family='"Liberation Sans", sans-serif' font-size="20.5" font-weight="bold" text-anchor="middle" fill="#000" textLength="51" lengthAdjust="spacingAndGlyphs">2028</text><text x="478.97" y="584.2" font-family='"Liberation Sans", sans-serif' font-size="20.5" font-weight="bold" text-anchor="middle" fill="#000" textLength="51" lengthAdjust="spacingAndGlyphs">2029</text><text x="587.31" y="584.2" font-family='"Liberation Sans", sans-serif' font-size="20.5" font-weight="bold" text-anchor="middle" fill="#000" textLength="51" lengthAdjust="spacingAndGlyphs">2030</text><text x="695.65" y="584.2" font-family='"Liberation Sans", sans-serif' font-size="20.5" font-weight="bold" text-anchor="middle" fill="#000" textLength="51" lengthAdjust="spacingAndGlyphs">2031</text><text x="803.99" y="584.2" font-family='"Liberation Sans", sans-serif' font-size="20.5" font-weight="bold" text-anchor="middle" fill="#000" textLength="51" lengthAdjust="spacingAndGlyphs">2032</text><text x="912.33" y="584.2" font-family='"Liberation Sans", sans-serif' font-size="20.5" font-weight="bold" text-anchor="middle" fill="#000" textLength="51" lengthAdjust="spacingAndGlyphs">2033</text><text x="1020.67" y="584.2" font-family='"Liberation Sans", sans-serif' font-size="20.5" font-weight="bold" text-anchor="middle" fill="#000" textLength="51" lengthAdjust="spacingAndGlyphs">2034</text><text x="1129.01" y="584.2" font-family='"Liberation Sans", sans-serif' font-size="20.5" font-weight="bold" text-anchor="middle" fill="#000" textLength="51" lengthAdjust="spacingAndGlyphs">2035</text><text x="134.5" y="294" font-family='"Liberation Sans", sans-serif' font-size="22" font-weight="bold" text-anchor="start" fill="#000" textLength="75" lengthAdjust="spacingAndGlyphs">4,402.1</text><text x="1084" y="171.6" font-family='"Liberation Sans", sans-serif' font-size="22" font-weight="bold" text-anchor="start" fill="#000" textLength="75" lengthAdjust="spacingAndGlyphs">6,641.5</text>
<rect x="1" y="1" width="1213" height="660" fill="none" stroke="#000" stroke-width="2"/>
<clipPath id="lc"><rect x="0" y="0" width="1215" height="661.8"/></clipPath>
<g clip-path="url(#lc)">
<g>
<path d="M1034.1,601.3 H1071 Q1082.8,601.3 1082.8,612 V619.5 Q1079,612.5 1070,612 H1046.9 V648.3 H1034.1 Z" fill="#7b8687"/>
<path d="M1034.1,650.4 H1070 Q1085.4,650.4 1085.4,632 V601.3 H1099.7 L1123.8,625.8 L1148.3,601.3 H1162.7 V663 H1149 V618 L1123.8,642.7 L1099.7,618 V628 Q1099.7,660.8 1065,660.8 H1034.1 Z" fill="#e8000b"/>
<path d="M1167,601.4 H1187 Q1211.3,601.4 1211.3,621.5 Q1211.3,638 1192.8,640.8 L1215,661.9 H1198.2 L1176.4,641.2 H1167 V630.9 H1186 Q1196.4,630.9 1196.4,621.4 Q1196.4,611.9 1186,611.9 H1167 Z" fill="#7b8687"/>
</g></g>
</svg>
</body></html>
